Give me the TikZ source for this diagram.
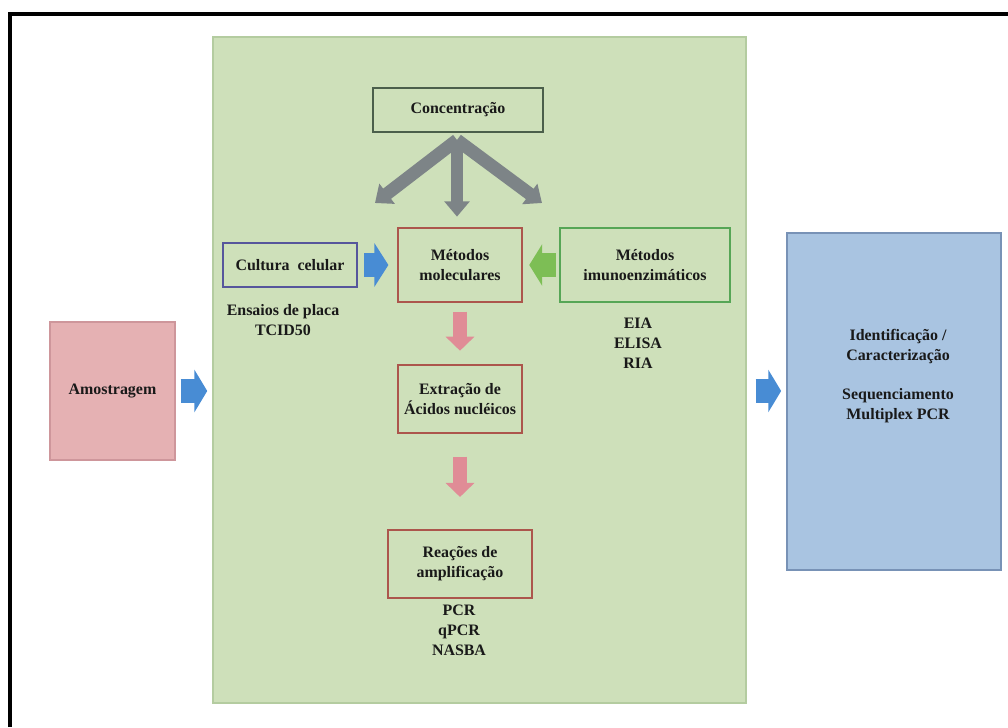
\documentclass[tikz,border=0pt]{standalone}
\usepackage{fontspec}
\setmainfont{Liberation Serif}
\usetikzlibrary{arrows.meta}

\definecolor{panelgreen}{RGB}{206,224,186}
\definecolor{paneledge}{RGB}{180,204,160}
\definecolor{pinkbox}{RGB}{229,177,179}
\definecolor{pinkedge}{RGB}{206,150,155}
\definecolor{bluebox}{RGB}{169,196,225}
\definecolor{blueedge}{RGB}{120,146,182}
\definecolor{arrowblue}{RGB}{72,140,212}
\definecolor{arrowpink}{RGB}{224,140,150}
\definecolor{arrowgreen}{RGB}{125,190,85}
\definecolor{arrowgray}{RGB}{125,132,135}
\definecolor{concedge}{RGB}{75,95,75}
\definecolor{rededge}{RGB}{172,86,76}
\definecolor{cultedge}{RGB}{86,86,156}
\definecolor{imunoedge}{RGB}{86,166,86}
\definecolor{textcol}{RGB}{25,25,25}

\newcommand{\txtfont}{\fontsize{13.6}{17}\selectfont\bfseries}

\tikzset{
  box/.style={draw, line width=2.4pt, align=center, inner sep=0pt,
    font=\txtfont, text=textcol},
  txt/.style={align=center, inner sep=0pt, font=\txtfont, text=textcol},
  bluearrow/.style={draw=arrowblue, line width=20pt,
    -{Triangle[length=11pt, width=36pt]}},
  greenarrow/.style={draw=arrowgreen, line width=20pt,
    -{Triangle[length=11pt, width=35pt]}},
  pinkarrow/.style={draw=arrowpink, line width=12pt,
    -{Triangle[length=12pt, width=24pt]}},
  grayarrow/.style={draw=arrowgray, line width=11pt,
    -{Triangle[length=13pt, width=21pt]}}
}

\begin{document}
\begin{tikzpicture}[x=0.03cm, y=-0.03cm]

    %% =========================================================
    %% CANVAS — pixel grid, (0,0) top-left, (1008,727) bottom-right
    %% =========================================================
    \useasboundingbox (0,0) rectangle (1008,727);
    \draw[line width=3.4pt, line join=miter] (10,727) -- (10,14) -- (1008,14);

    %% GREEN PANEL — x 213 to 746, y 37 to 703
    \node[fill=panelgreen, draw=paneledge, line width=1.2pt,
      minimum width=15.99cm, minimum height=19.98cm] (painel) at (479.5,370) {};

    %% SIDE BOXES
    \node[box, fill=pinkbox, draw=pinkedge, line width=1pt,
      minimum width=3.75cm, minimum height=4.14cm] (amost) at (112.5,391) {Amostragem};
    \node[box, fill=bluebox, draw=blueedge, line width=1.4pt,
      minimum width=6.42cm, minimum height=10.11cm] (ident) at (894,401.5) {};
    \node[txt] (identtxt) at (898,376)
      {Identificação /\\ Caracterização\\[17pt]Sequenciamento\\Multiplex PCR};

    %% =========================================================
    %% INSIDE THE PANEL
    %% =========================================================
    \node[box, draw=concedge, minimum width=5.1cm, minimum height=1.32cm]
      (conc) at (458,110) {Concentração};

    \node[box, draw=cultedge, minimum width=4.02cm, minimum height=1.32cm]
      (cult) at (290,265) {Cultura\ \ celular};
    \node[box, draw=rededge, minimum width=3.72cm, minimum height=2.22cm]
      (metmol) at (460,265) {Métodos\\moleculares};
    \node[box, draw=imunoedge, minimum width=5.1cm, minimum height=2.22cm]
      (imuno) at (645,265) {Métodos\\imunoenzimáticos};

    \node[box, draw=rededge, minimum width=3.72cm, minimum height=2.04cm]
      (extr) at (460,399) {Extração de\\Ácidos nucléicos};
    \node[box, draw=rededge, minimum width=4.32cm, minimum height=2.04cm]
      (reac) at (460,564) {Reações de\\amplificação};

    % lists under the boxes
    \node[txt] (ensaios) at (283,320) {Ensaios de placa\\TCID50};
    \node[txt] (imunolist) at (638,343) {EIA\\ELISA\\RIA};
    \node[txt] (amplist) at (459,630) {PCR\\qPCR\\NASBA};

    %% ARROWS
    \coordinate (fork) at (457,140);
    \coordinate (gl) at (375,203);
    \coordinate (gr) at (542,203);
    \draw[grayarrow] (fork) -- (gl);
    \draw[grayarrow] (fork) -- (gr);
    \draw[grayarrow, shorten >=8.5pt] (fork) -- (fork |- metmol.north);

    \draw[bluearrow, shorten <=4.3pt, shorten >=4.3pt]
      (amost.east) -- (painel.west |- amost.east);
    \draw[bluearrow, shorten <=7.7pt, shorten >=4.3pt]
      (painel.east |- amost.east) -- (ident.west |- amost.east);
    \draw[bluearrow, shorten <=5pt, shorten >=7pt,
      -{Triangle[length=12pt, width=37pt]}] (cult.east) -- (metmol.west);
    \draw[greenarrow, shorten <=2.5pt, shorten >=5pt] (imuno.west) -- (metmol.east);

    \draw[pinkarrow, shorten <=7pt, shorten >=11pt] (metmol.south) -- (extr.north);
    \draw[pinkarrow, shorten <=19pt, shorten >=27pt] (extr.south) -- (reac.north);

  \end{tikzpicture}
\end{document}
